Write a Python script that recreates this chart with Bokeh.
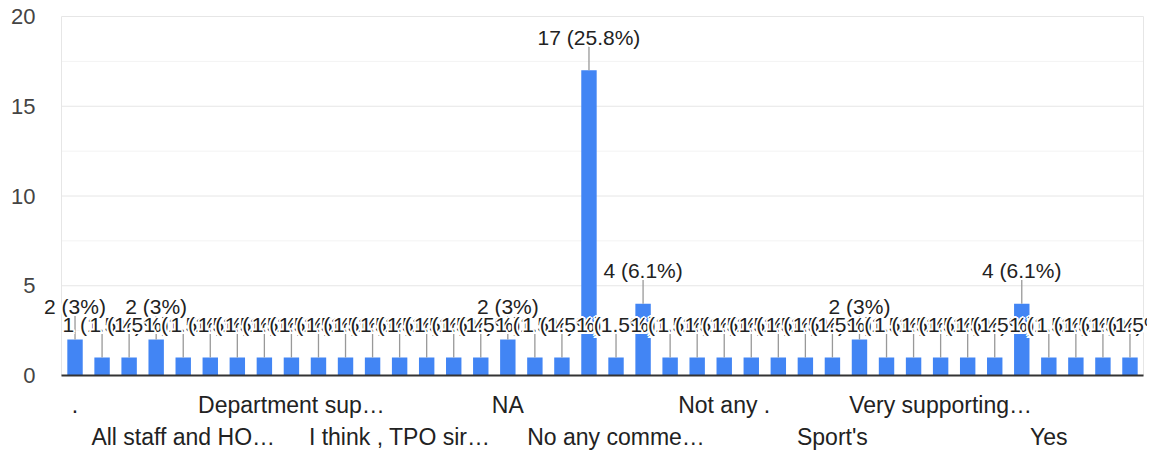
from bokeh.plotting import figure
from bokeh.models import ColumnDataSource, Range1d, FixedTicker, LinearAxis
from bokeh.core.properties import value
from bokeh.embed import file_html
from bokeh.resources import INLINE

# ---- data ----
categories = [
    ".", "", "", "", "All staff and HO…", "", "", "",
    "Department sup…", "", "", "", "I think , TPO sir…", "", "", "",
    "NA", "", "", "", "No any comme…", "", "", "",
    "Not any .", "", "", "", "Sport's", "", "", "",
    "Very supporting…", "", "", "", "Yes", "", "", "",
]
counts = [
    2, 1, 1, 2, 1, 1, 1, 1, 1, 1, 1, 1, 1, 1, 1, 1,
    2, 1, 1, 17, 1, 4, 1, 1, 1, 1, 1, 1, 1, 2, 1, 1,
    1, 1, 1, 4, 1, 1, 1, 1,
]
row1_ticks = [0, 8, 16, 24, 32]
row2_ticks = [4, 12, 20, 28, 36]
y_ticks = [0, 5, 10, 15, 20]

total = sum(counts)
n = len(counts)


def pct_text(v):
    p = round(v / total * 100, 1)
    s = ("%.1f" % p).rstrip("0").rstrip(".")
    return f"{v} ({s}%)"


FONT = "Liberation Sans"
# chart area geometry (pixels)
area_w, area_h = 1082, 359
left_px, right_px, bottom_px, top_px = 61, 4, 12, 14
px_x = area_w / n
px_y = area_h / y_ticks[-1]
x0, x1 = -0.5, n - 0.5
y_top = y_ticks[-1]

stem_units = 24 / px_y
xs = list(range(n))
stem_tops = [v + stem_units for v in counts]
texts = [pct_text(v) for v in counts]
src = ColumnDataSource(dict(x=xs, top=counts, stem_top=stem_tops))

p = figure(frame_width=area_w + left_px + right_px, frame_height=area_h + bottom_px + top_px,
           x_range=Range1d(x0 - left_px / px_x, x1 + right_px / px_x),
           y_range=Range1d(-bottom_px / px_y, y_top + top_px / px_y),
           y_axis_location=None,
           output_backend="svg", toolbar_location=None,
           min_border_left=0, min_border_right=0, min_border_top=2, min_border_bottom=2)
p.background_fill_color = "white"
p.border_fill_color = "white"
p.outline_line_color = None
p.grid.visible = False

# gridlines (major + minor) and chart-area borders
minor = [(a + b) / 2 for a, b in zip(y_ticks[:-1], y_ticks[1:])]
p.segment(x0=[x0] * len(minor), y0=minor, x1=[x1] * len(minor), y1=minor,
          line_color="#f3f3f3", line_width=1)
p.segment(x0=[x0] * len(y_ticks), y0=y_ticks, x1=[x1] * len(y_ticks), y1=y_ticks,
          line_color="#e6e6e6", line_width=1)
p.segment(x0=[x0, x1], y0=[0, 0], x1=[x0, x1], y1=[y_top, y_top],
          line_color="#e6e6e6", line_width=1)

# y tick labels
p.text(x=[x0] * len(y_ticks), y=y_ticks, text=[str(t) for t in y_ticks],
       x_offset=-26, text_align="right", text_baseline="middle",
       text_font=value(FONT), text_font_size="22px", text_color="#444444")

# x axes: two rows of labels
ax1 = p.xaxis[0]
ax1.ticker = FixedTicker(ticks=row1_ticks)
ax1.major_label_overrides = {i: categories[i] for i in row1_ticks}
ax2 = LinearAxis(ticker=FixedTicker(ticks=row2_ticks),
                 major_label_overrides={i: categories[i] for i in row2_ticks})
p.add_layout(ax2, "below")
for ax, standoff in ((ax1, 4), (ax2, 3)):
    ax.axis_line_color = None
    ax.major_tick_line_color = None
    ax.minor_tick_line_color = None
    ax.major_tick_out = 0
    ax.major_tick_in = 0
    ax.major_label_standoff = standoff
    ax.major_label_text_font = FONT
    ax.major_label_text_font_size = "23px"
    ax.major_label_text_color = "#222222"

# bars, baseline, stems
p.vbar(x="x", top="top", width=0.57, source=src, color="#4285f4", line_color=None)
p.segment(x0=[x0], y0=[0], x1=[x1], y1=[0], line_color="#333333", line_width=2)
p.segment(x0="x", y0="top", x1="x", y1="stem_top", source=src,
          line_color="#999999", line_width=1.3)

# annotations: white halo under each text, drawn left to right
halo = [(-2, 0), (2, 0), (0, -2), (0, 2), (-1.5, -1.5), (1.5, -1.5), (-1.5, 1.5), (1.5, 1.5)]
ann = dict(x=[], y=[], text=[], color=[], dx=[], dy=[])
for xi, yi, t in zip(xs, stem_tops, texts):
    for dx, dy in halo + [(0, 0)]:
        ann["x"].append(xi)
        ann["y"].append(yi)
        ann["text"].append(t)
        ann["color"].append("#222222" if (dx, dy) == (0, 0) else "white")
        ann["dx"].append(dx)
        ann["dy"].append(dy - 9)
p.text(x="x", y="y", text="text", x_offset="dx", y_offset="dy", text_color="color",
       source=ColumnDataSource(ann), text_align="center", text_baseline="alphabetic",
       text_font=value(FONT), text_font_size="21px")

open("out.html", "w").write(file_html(p, INLINE))
